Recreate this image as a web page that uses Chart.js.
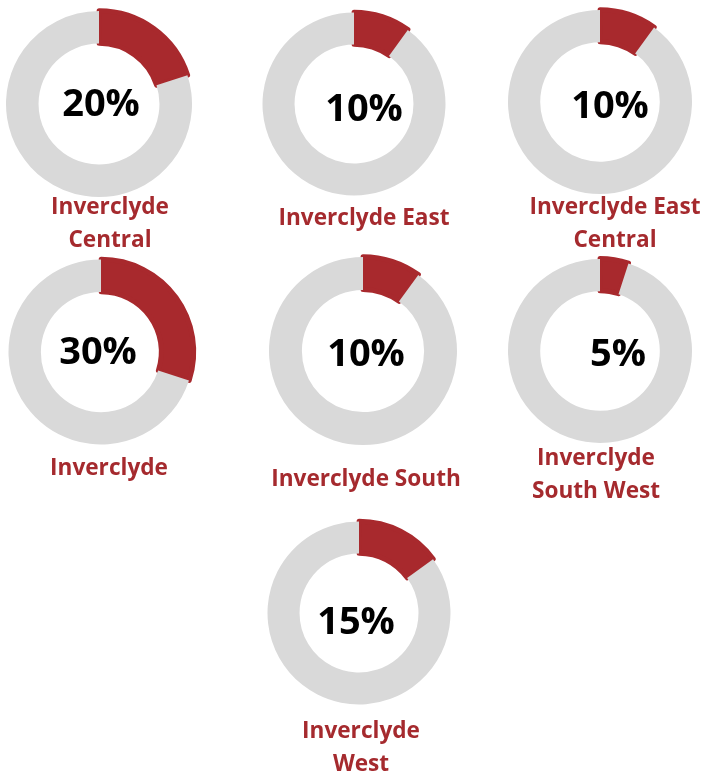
<!DOCTYPE html>
<html lang="en">
<head>
    <meta charset="UTF-8">
    <title>Inverclyde Doughnuts</title>
    <script src="https://cdn.jsdelivr.net/npm/chart.js"></script>
    <style>
        body {
            margin: 0;
            padding: 0;
            background: #ffffff;
            font-family: 'Open Sans', Arial, sans-serif;
        }
        .stage {
            position: relative;
            width: 705px;
            height: 774px;
            overflow: hidden;
        }
        .stage canvas {
            position: absolute;
        }
        .pct {
            position: absolute;
            transform: translate(-50%, -50%);
            font-size: 38px;
            font-weight: 700;
            line-height: 1;
            color: #000;
            white-space: nowrap;
        }
        .name {
            position: absolute;
            transform: translateX(-50%);
            font-size: 22.6px;
            font-weight: 700;
            line-height: 33px;
            color: #a52a2e;
            text-align: center;
            white-space: nowrap;
        }
    </style>
</head>
<body>
<div class="stage" id="stage"></div>

<script>
    // data
    const areas = [
        ['Inverclyde', 'Central'],
        ['Inverclyde East'],
        ['Inverclyde East', 'Central'],
        ['Inverclyde'],
        ['Inverclyde South'],
        ['Inverclyde', 'South West'],
        ['Inverclyde', 'West']
    ];
    const percents = [20, 10, 10, 30, 10, 5, 15];

    // where each doughnut sits on the page
    const rings = [
        {cx: 98.5, cy: 103.5, r: 93},
        {cx: 353.5, cy: 104, r: 91.5},
        {cx: 600, cy: 101.5, r: 92},
        {cx: 100.5, cy: 351.5, r: 92.5},
        {cx: 363, cy: 351, r: 94},
        {cx: 600, cy: 351, r: 92},
        {cx: 358.5, cy: 612.5, r: 91.5}
    ];
    const pctPos = [
        {x: 101, y: 101}, {x: 364, y: 106}, {x: 610, y: 103},
        {x: 98, y: 349}, {x: 366, y: 351}, {x: 618, y: 351}, {x: 356, y: 619}
    ];
    const namePos = [
        {x: 110, y: 205}, {x: 364, y: 216}, {x: 615, y: 205},
        {x: 109, y: 466}, {x: 366, y: 477}, {x: 596, y: 456}, {x: 361, y: 729}
    ];

    const RED = '#a8292d';
    const GREY = '#d9d9d9';
    const SIZE = 230;

    const stage = document.getElementById('stage');

    percents.forEach(function (p, i) {
        const ring = rings[i];
        const cv = document.createElement('canvas');
        cv.width = SIZE;
        cv.height = SIZE;
        cv.style.width = SIZE + 'px';
        cv.style.height = SIZE + 'px';
        cv.style.left = (ring.cx - SIZE / 2) + 'px';
        cv.style.top = (ring.cy - SIZE / 2) + 'px';
        stage.appendChild(cv);

        new Chart(cv.getContext('2d'), {
            type: 'doughnut',
            data: {
                labels: ['Share', 'Rest'],
                datasets: [{
                    data: [p, 100 - p],
                    backgroundColor: [RED, GREY],
                    borderColor: [RED, GREY],
                    borderWidth: [5, 0],
                    borderAlign: 'center',
                    borderJoinStyle: 'round',
                    offset: [1, 0]
                }]
            },
            options: {
                responsive: false,
                animation: false,
                radius: ring.r,
                cutout: '65%',
                layout: { padding: 0 },
                events: [],
                plugins: {
                    legend: { display: false },
                    tooltip: { enabled: false }
                }
            }
        });

        const pct = document.createElement('div');
        pct.className = 'pct';
        pct.textContent = p + '%';
        pct.style.left = pctPos[i].x + 'px';
        pct.style.top = pctPos[i].y + 'px';
        stage.appendChild(pct);

        const name = document.createElement('div');
        name.className = 'name';
        name.innerHTML = areas[i].join('<br>');
        name.style.left = namePos[i].x + 'px';
        name.style.top = (namePos[i].y - 16.5) + 'px';
        stage.appendChild(name);
    });
</script>
</body>
</html>
